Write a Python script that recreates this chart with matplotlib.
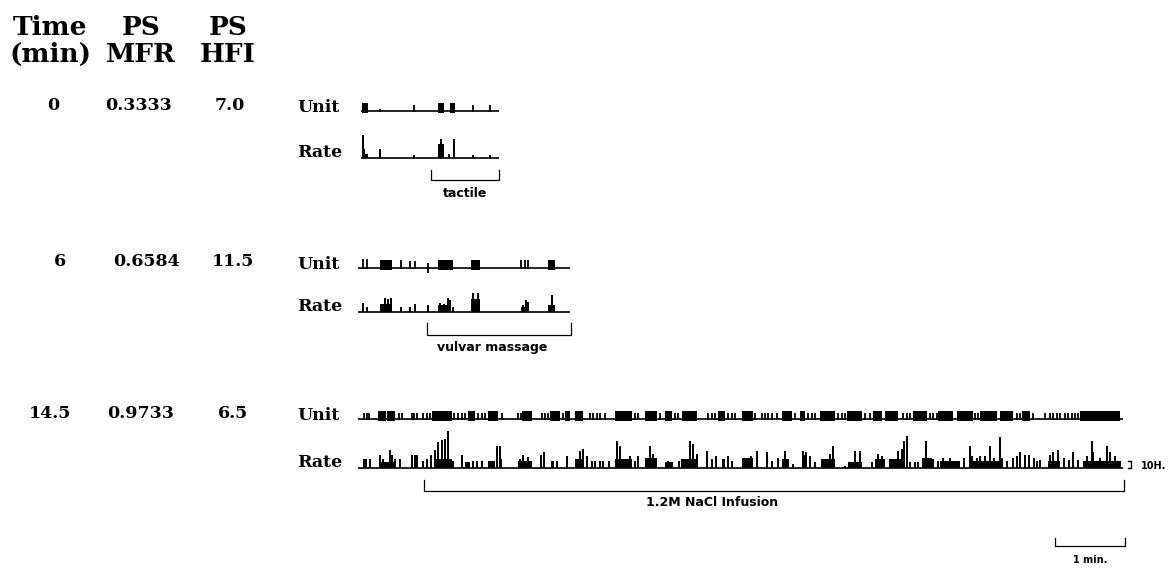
import matplotlib
matplotlib.use("Agg")
import matplotlib.pyplot as plt

# ---------------- DATA ----------------
header_time = ["Time", "(min)"]
header_mfr = ["PS", "MFR"]
header_hfi = ["PS", "HFI"]
times_min = ["0", "6", "14.5"]
ps_mfr = ["0.3333", "0.6584", "0.9733"]
ps_hfi = ["7.0", "11.5", "6.5"]
trace_names = ["Unit", "Rate"]

# trace extents (minutes)
trace_span = [(0.04, 2.01), (0.0, 3.03), (0.0, 10.93)]
# stimulus periods (label, start min, end min)
stimuli = [("tactile", 1.05, 2.01), ("vulvar massage", 0.98, 3.04),
           ("1.2M NaCl Infusion", 0.95, 10.94)]

# ---- row 1 (0 min) ----
r1_unit_spikes = [(0.31, 2), (0.80, 6), (1.64, 6), (1.89, 6)]
r1_unit_bursts = [(0.06, 0.14), (1.14, 1.23), (1.31, 1.39)]
r1_rate_bars = [(0.07, 31), (0.31, 12), (0.80, 4), (1.19, 25), (1.30, 5),
                (1.37, 25), (1.64, 4), (1.89, 4)]
r1_rate_blocks = [(0.06, 0.10, 12), (0.10, 0.14, 6), (1.15, 1.23, 19)]

# ---- row 2 (6 min) ----
r2_unit_spikes = [(0.07, 9), (0.13, 9), (0.61, 8), (0.74, 7), (0.81, 7),
                  (2.33, 8), (2.39, 8), (2.43, 8)]
r2_unit_bipolar = [1.0]
r2_unit_bursts = [(0.31, 0.48), (1.15, 1.36), (1.61, 1.74), (2.71, 2.81)]
r2_rate_bars = [(0.07, 12), (0.13, 7), (0.39, 19), (0.43, 17), (0.47, 19),
                (0.61, 7), (0.74, 7), (0.81, 11), (1.0, 9), (1.17, 12),
                (1.23, 11), (1.29, 19), (1.32, 16), (1.36, 7), (1.65, 25),
                (1.72, 25), (2.35, 9), (2.40, 16), (2.43, 13), (2.77, 23)]
r2_rate_blocks = [(0.31, 0.48, 11), (1.15, 1.33, 9), (1.61, 1.74, 17),
                  (2.33, 2.43, 7), (2.71, 2.81, 9)]

# ---- row 3 (14.5 min) ----
r3_unit_spikes = [0.09, 0.13, 0.16, 0.59, 0.63, 0.77, 0.80, 0.84, 0.93, 0.99,
                  1.03, 1.37, 1.43, 1.49, 1.53, 1.71, 1.77, 1.81, 2.06, 2.29,
                  2.33, 2.63, 2.67, 2.71, 2.77, 2.93, 3.31, 3.36, 3.41, 3.46,
                  3.53, 3.96, 4.00, 4.31, 4.53, 4.57, 5.00, 5.06, 5.10, 5.29,
                  5.34, 5.39, 5.67, 5.77, 5.81, 5.86, 5.91, 5.99, 6.24, 6.43,
                  6.49, 6.53, 6.86, 6.91, 6.96, 7.24, 7.31, 7.79, 7.84, 7.89,
                  8.17, 8.21, 8.27, 8.81, 8.86, 9.41, 9.46, 9.64, 9.81, 9.89,
                  9.93, 9.99, 10.03, 10.10, 10.14, 10.20, 10.24, 10.29]
r3_unit_bursts = [(0.29, 0.40), (0.42, 0.53), (1.06, 1.34), (1.57, 1.67),
                  (1.86, 2.00), (2.34, 2.49), (2.74, 2.89), (2.96, 3.03),
                  (3.10, 3.21), (3.67, 3.91), (4.10, 4.27), (4.39, 4.49),
                  (4.63, 4.84), (5.14, 5.24), (5.49, 5.64), (6.06, 6.20),
                  (6.31, 6.39), (6.60, 6.81), (6.99, 7.20), (7.36, 7.49),
                  (7.53, 7.71), (7.93, 8.13), (8.29, 8.50), (8.56, 8.79),
                  (8.89, 9.13), (9.17, 9.36), (9.49, 9.60), (10.31, 10.89)]
r3_rate_bars = [
    (0.08, 12), (0.12, 12), (0.17, 12), (0.31, 17), (0.36, 12), (0.46, 24),
    (0.49, 17), (0.53, 12), (0.60, 12), (0.77, 17), (0.81, 17), (0.84, 17),
    (0.93, 10), (0.98, 12), (1.05, 17), (1.10, 24), (1.15, 35), (1.20, 37),
    (1.24, 39), (1.29, 50), (1.36, 10), (1.48, 17), (1.65, 10), (1.70, 10),
    (1.77, 10), (1.98, 30), (2.03, 30), (2.05, 12), (2.31, 12), (2.36, 17),
    (2.43, 15), (2.62, 17), (2.65, 21), (2.77, 10), (2.79, 10), (2.84, 10),
    (2.98, 16), (3.17, 23), (3.22, 25), (3.27, 16), (3.34, 10), (3.39, 10),
    (3.46, 10), (3.50, 10), (3.58, 10), (3.70, 36), (3.74, 30), (3.89, 16),
    (3.96, 10), (4.00, 16), (4.17, 30), (4.22, 19), (4.43, 10), (4.58, 10),
    (4.74, 36), (4.79, 32), (4.84, 19), (4.98, 23), (5.05, 12), (5.12, 16),
    (5.29, 16), (5.34, 10), (5.62, 16), (5.70, 23), (5.84, 21), (5.91, 10),
    (6.00, 14), (6.10, 23), (6.22, 5), (6.35, 23), (6.40, 21), (6.46, 16),
    (6.53, 8), (6.74, 19), (6.79, 30), (6.96, 3), (7.10, 23), (7.17, 23),
    (7.34, 8), (7.43, 19), (7.48, 16), (7.72, 23), (7.77, 25), (7.80, 36),
    (7.84, 43), (7.89, 8), (7.96, 8), (8.00, 8), (8.12, 36), (8.22, 12),
    (8.29, 10), (8.36, 14), (8.46, 13), (8.65, 13), (8.74, 29), (8.77, 16),
    (8.84, 13), (8.89, 16), (8.96, 16), (9.03, 29), (9.08, 13), (9.17, 42),
    (9.20, 13), (9.27, 9), (9.36, 13), (9.41, 16), (9.46, 22), (9.53, 18),
    (9.58, 18), (9.65, 13), (9.70, 9), (9.74, 11), (9.89, 18), (9.93, 22),
    (10.00, 24), (10.08, 13), (10.15, 11), (10.22, 22), (10.29, 11),
    (10.41, 16), (10.48, 36), (10.50, 22), (10.60, 13), (10.70, 29),
    (10.74, 22), (10.81, 16), (10.89, 9)]
r3_rate_blocks = [
    (0.31, 0.53, 8), (1.10, 1.34, 12), (1.53, 1.60, 8), (1.86, 1.96, 10),
    (2.29, 2.48, 10), (3.10, 3.22, 12), (3.67, 3.91, 12), (4.10, 4.27, 14),
    (4.39, 4.50, 8), (4.62, 4.84, 12), (5.20, 5.24, 12), (5.48, 5.65, 13),
    (6.05, 6.15, 12), (6.34, 6.41, 18), (6.62, 6.81, 12), (7.00, 7.20, 8),
    (7.39, 7.53, 12), (7.58, 7.81, 12), (8.05, 8.20, 14), (8.31, 8.60, 9),
    (8.79, 9.17, 9), (9.86, 10.03, 9), (10.36, 10.89, 9)]

rate_scale_hz = 10
scale_minutes = 1.0

# ---------------- LAYOUT ----------------
W, H = 1175, 583
PX_PER_MIN = 70.0
T_ORIGIN_PX = 358.0
PX_PER_HZ = 0.75
PX_PER_UNIT = 1.0
XMIN = -T_ORIGIN_PX / PX_PER_MIN
XMAX = (W - T_ORIGIN_PX) / PX_PER_MIN

unit_base_px = [111, 268, 419]
rate_base_px = [158, 312, 468]
value_base_px = [110, 266, 418]

SERIF = ["DejaVu Serif"]
SANS = ["DejaVu Sans"]

fig = plt.figure(figsize=(W / 100, H / 100), dpi=100)
fig.patch.set_facecolor("white")


def trace_axes(baseline_px, ylo, yhi, ppu):
    bottom_px = baseline_px - ylo * ppu
    height_px = (yhi - ylo) * ppu
    ax = fig.add_axes([0, (H - bottom_px) / H, 1, height_px / H])
    ax.set_xlim(XMIN, XMAX)
    ax.set_ylim(ylo, yhi)
    ax.axis("off")
    ax.patch.set_alpha(0)
    return ax


def draw_unit(ax, span, spikes, bursts, bipolar=()):
    ax.hlines(0, span[0], span[1], color="black", lw=1.2)
    if spikes:
        ax.vlines([s[0] for s in spikes], -1, [s[1] for s in spikes],
                  color="black", lw=1.3)
    for t in bipolar:
        ax.vlines(t, -5, 5, color="black", lw=1.3)
    ax.bar([b[0] for b in bursts], 10, width=[b[1] - b[0] for b in bursts],
           bottom=-2, align="edge", color="black", lw=0)


def draw_rate(ax, span, bars, blocks):
    ax.hlines(0, span[0], span[1], color="black", lw=1.2)
    ax.bar([b[0] for b in blocks], [b[2] for b in blocks],
           width=[b[1] - b[0] for b in blocks], align="edge",
           color="black", lw=0)
    ax.vlines([b[0] for b in bars], 0, [b[1] for b in bars],
              color="black", lw=1.4)


unit_data = [(r1_unit_spikes, r1_unit_bursts, ()),
             (r2_unit_spikes, r2_unit_bursts, r2_unit_bipolar),
             ([(t, 6) for t in r3_unit_spikes], r3_unit_bursts, ())]
rate_data = [(r1_rate_bars, r1_rate_blocks),
             (r2_rate_bars, r2_rate_blocks),
             (r3_rate_bars, r3_rate_blocks)]

rate_axes = []
for i in range(3):
    ua = trace_axes(unit_base_px[i], -8, 14, PX_PER_UNIT)
    draw_unit(ua, trace_span[i], *unit_data[i])
    ra = trace_axes(rate_base_px[i], -6, 66, PX_PER_HZ)
    draw_rate(ra, trace_span[i], *rate_data[i])
    rate_axes.append(ra)

# rate calibration bar "] 10H."
cal_t = 11.04
rate_axes[2].plot([cal_t - 0.04, cal_t, cal_t, cal_t - 0.04],
                  [0, 0, rate_scale_hz, rate_scale_hz], color="black", lw=1.0,
                  clip_on=False)

# annotation axes: x in minutes, y in pixels
ann = fig.add_axes([0, 0, 1, 1])
ann.set_xlim(XMIN, XMAX)
ann.set_ylim(H, 0)
ann.axis("off")
ann.patch.set_alpha(0)

bracket_y = [(170, 180), (323, 335), (480, 491)]
label_x_px = [465, 492, 712]
label_base_px = [197, 351, 506]
for i, (lab, a, b) in enumerate(stimuli):
    y0, y1 = bracket_y[i]
    ann.plot([a, a, b, b], [y0, y1, y1, y0], color="black", lw=0.9)
    ann.text((label_x_px[i] - T_ORIGIN_PX) / PX_PER_MIN, label_base_px[i], lab,
             ha="center", va="baseline", fontsize=9, fontweight="bold",
             family=SANS)

ann.text((1141 - T_ORIGIN_PX) / PX_PER_MIN, 469, "%dH." % rate_scale_hz,
         ha="left", va="baseline", fontsize=7, fontweight="bold", family=SANS)

# time scale bar
sb0 = (1055 - T_ORIGIN_PX) / PX_PER_MIN
ann.plot([sb0, sb0, sb0 + scale_minutes, sb0 + scale_minutes],
         [538, 546, 546, 538], color="black", lw=0.9)
ann.text(sb0 + scale_minutes / 2, 563, "1 min.", ha="center", va="baseline",
         fontsize=7, fontweight="bold", family=SANS)

# text axes in pixels
txt = fig.add_axes([0, 0, 1, 1])
txt.set_xlim(0, W)
txt.set_ylim(H, 0)
txt.axis("off")
txt.patch.set_alpha(0)

hdr_kw = dict(ha="center", va="baseline", fontsize=19, fontweight="bold",
              family=SERIF)
for j, y in enumerate([35, 62]):
    txt.text(50, y, header_time[j], **hdr_kw)
    txt.text(141, y, header_mfr[j], **hdr_kw)
    txt.text(228, y, header_hfi[j], **hdr_kw)

val_kw = dict(ha="center", va="baseline", fontsize=12.5, fontweight="bold",
              family=SERIF)
time_x = [53, 60, 50]
mfr_x = [138, 146, 141]
hfi_x = [230, 233, 233]
for i in range(3):
    txt.text(time_x[i], value_base_px[i], times_min[i], **val_kw)
    txt.text(mfr_x[i], value_base_px[i], ps_mfr[i], **val_kw)
    txt.text(hfi_x[i], value_base_px[i], ps_hfi[i], **val_kw)
    txt.text(297, unit_base_px[i] + 1, trace_names[0], ha="left",
             va="baseline", fontsize=12.5, fontweight="bold", family=SERIF)
    txt.text(297, rate_base_px[i] - 1, trace_names[1], ha="left",
             va="baseline", fontsize=12.5, fontweight="bold", family=SERIF)

fig.savefig("out.png", dpi=100, facecolor="white")
